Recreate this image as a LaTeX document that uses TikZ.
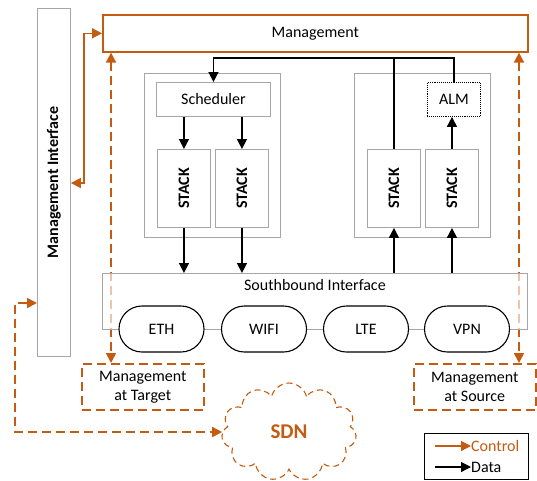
\documentclass[tikz,border=0pt]{standalone}
\usepackage{fontspec}
\setmainfont{Carlito}
\usetikzlibrary{arrows.meta,calc,positioning,shapes.misc,shapes.symbols}
\definecolor{naranja}{HTML}{C55A11}
\definecolor{gris}{HTML}{A6A6A6}
\newcommand{\pilatxt}{\rotatebox{90}{\textbf{STACK}}}

\begin{document}
\begin{tikzpicture}[x=1pt, y=-1pt, >={Triangle[length=10pt,width=10pt]},
      font=\fontsize{16}{19}\selectfont,
      caja/.style={draw=gris, line width=0.9pt, fill=white, inner sep=0pt},
      grupo/.style={caja, minimum width=136pt, minimum height=164pt, anchor=north west},
      pila/.style={caja, minimum width=53pt, minimum height=78pt, anchor=north west},
      pildora/.style={rounded rectangle, draw=black, line width=1.1pt, fill=white,
                      minimum width=85pt, minimum height=46pt, inner sep=0pt},
      datos/.style={line width=1.5pt, black},
      control/.style={line width=1.6pt, naranja},
      rayas/.style={dash pattern=on 9pt off 5pt},
      gestion/.style={draw=naranja, line width=1.6pt, rayas, align=center,
                      minimum width=122pt, minimum height=46pt, anchor=north west}]
    \useasboundingbox (0,0) rectangle (537,480);

    % interfaz de gestion y gestion
    \node[caja, minimum width=33pt, minimum height=348pt, anchor=north west] (mgmtif) at (37,8)
      {\rotatebox{90}{\textbf{Management Interface}}};
    \node[draw=naranja, line width=1.6pt, minimum width=425pt, minimum height=37pt,
          anchor=north west] (mgmt) at (102,14) {Management};
    \node[gestion] (tgt) at (81,363) {Management\\at Target};
    \node[gestion] (src) at (413,363) {Management\\at Source};

    % lineas de control que pasan por detras
    \coordinate (izq) at (111,0);
    \coordinate (der) at (519,0);
    \draw[control, rayas, <->] (izq |- mgmt.south) -- (izq |- tgt.north);
    \draw[control, rayas, <->] (der |- mgmt.south) -- (der |- src.north);

    % grupos
    \node[grupo] (grpL) at (144,73) {};
    \node[grupo] (grpR) at (354,73) {};
    \node[caja, minimum width=114pt, minimum height=34pt, anchor=north west] (sched) at (156,82) {Scheduler};
    \node[draw=black, densely dotted, line width=0.9pt, minimum width=53pt, minimum height=34pt,
          anchor=north west] (alm) at (427,82) {ALM};
    \node[pila] (stackA) at (157,149) {\pilatxt};
    \node[pila] (stackB) at (215,149) {\pilatxt};
    \node[pila] (stackC) at (367,149) {\pilatxt};
    \node[pila] (stackD) at (425,149) {\pilatxt};

    % southbound
    \node[caja, fill opacity=0.65, text opacity=1, minimum width=425pt, minimum height=56pt,
          anchor=north west, label={[below=3pt]north:Southbound Interface}] (south) at (102,273) {};
    \node[pildora] (eth) at (161.5,329) {ETH};
    \node[pildora] (wifi) at (264,329) {WIFI};
    \node[pildora] (lte) at (366,329) {LTE};
    \node[pildora] (vpn) at (467,329) {VPN};

    \node[cloud, cloud puffs=11, cloud ignores aspect, draw=naranja, line width=1.1pt,
          dash pattern=on 6pt off 4pt, minimum width=135pt, minimum height=98pt,
          text=naranja, font=\fontsize{21}{24}\selectfont\bfseries] (sdn) at (289,432) {SDN};

    % flujo de datos
    \coordinate (bus) at (0,58);
    \draw[datos, ->] (alm.north) |- (bus -| sched.north) -- (sched.north);
    \draw[datos] (stackC.north) -- (stackC.north |- bus);
    \draw[datos, ->] (sched.south -| stackA.north) -- (stackA.north);
    \draw[datos, ->] (sched.south -| stackB.north) -- (stackB.north);
    \draw[datos, ->] (stackA.south) -- (stackA.south |- south.north);
    \draw[datos, ->] (stackB.south) -- (stackB.south |- south.north);
    \draw[datos, ->] (stackC.south |- south.north) -- (stackC.south);
    \draw[datos, ->] (stackD.south |- south.north) -- (stackD.south);
    \draw[datos, ->] (stackD.north) -- (stackD.north |- alm.south);

    % flujo de control
    \coordinate (codo) at (84,183);
    \draw[control, <->] (mgmtif.east |- codo) -- (codo) |- (mgmt.west);
    \coordinate (sdnk) at (15,303);
    \draw[control, rayas, <->] (mgmtif.west |- sdnk) -- (sdnk) |- (sdn.west);

    % leyenda
    \node[draw=black, line width=1.2pt, minimum width=104pt, minimum height=46pt,
          anchor=north west] (leyenda) at (424,433) {};
    \node[anchor=west, inner sep=0pt, text=naranja] (lgctrl) at (471,446) {Control};
    \node[anchor=west, inner sep=0pt] (lgdatos) at (471,467) {Data};
    \coordinate (lgc) at (435,446);
    \coordinate (lgd) at (435,467);
    \draw[control, line width=1.2pt, ->] (lgc) -- (lgctrl.west);
    \draw[datos, line width=1.2pt, ->] (lgd) -- (lgdatos.west);
  \end{tikzpicture}
\end{document}
